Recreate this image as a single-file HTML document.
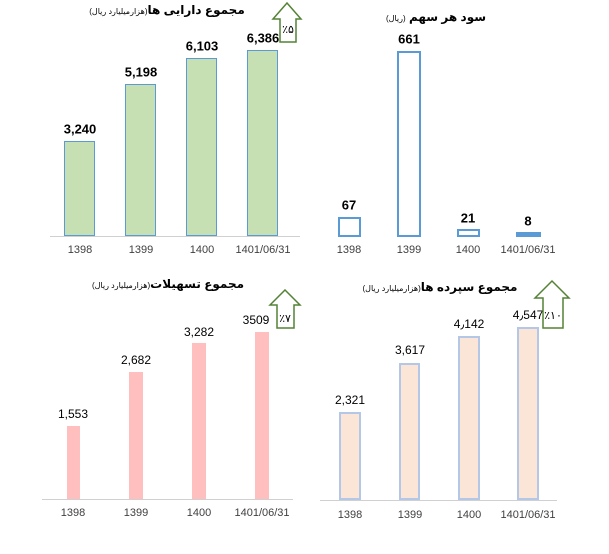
<!DOCTYPE html>
<html><head><meta charset="utf-8"><style>
body{margin:0;width:609px;height:554px;background:#fff;position:relative;overflow:hidden;font-family:"Liberation Sans","DejaVu Sans",sans-serif}
div{position:absolute}
.b{box-sizing:border-box}
.l{transform:translate(-50%,-50%);white-space:nowrap;font-size:12px;color:#000}
.bd{font-weight:bold;font-size:13px}
.x{transform:translate(-50%,-50%);font-size:11px;color:#404040;white-space:nowrap}
.ax{height:1px;background:#d0d0d0}
.t{white-space:nowrap;transform:translate(-50%,-50%);font-size:12px;font-weight:bold;direction:rtl}
.t small{font-size:8px;font-weight:normal}
</style></head><body>
<!-- chart1 -->
<div class="ax" style="left:50px;top:236px;width:250px"></div>
<div class="b" style="left:64px;top:141px;width:31px;height:95px;background:#c6e0b4;border:1px solid #5b9bd5"></div>
<div class="b" style="left:125px;top:84px;width:31px;height:152px;background:#c6e0b4;border:1px solid #5b9bd5"></div>
<div class="b" style="left:186px;top:58px;width:31px;height:178px;background:#c6e0b4;border:1px solid #5b9bd5"></div>
<div class="b" style="left:247px;top:50px;width:31px;height:186px;background:#c6e0b4;border:1px solid #5b9bd5"></div>
<div class="l bd" style="left:80px;top:129px">3,240</div>
<div class="l bd" style="left:141px;top:72px">5,198</div>
<div class="l bd" style="left:202px;top:46px">6,103</div>
<div class="l bd" style="left:263px;top:38px">6,386</div>
<div class="x" style="left:80px;top:250px">1398</div><div class="x" style="left:141px;top:250px">1399</div><div class="x" style="left:202px;top:250px">1400</div><div class="x" style="left:263px;top:250px">1401/06/31</div>
<div class="t" style="left:167px;top:10px">مجموع دارایی ها<small>(هزارمیلیارد ریال)</small></div>
<svg style="position:absolute;left:270px;top:2px" width="40" height="42"><polygon points="3,17 17,1 31,17 26,17 26,40 10,40 10,17" fill="#fff" stroke="#548235" stroke-width="1.5"/><text x="18" y="31" font-size="11" text-anchor="middle" font-family="DejaVu Sans">٪۵</text></svg>
<!-- chart2 -->
<div class="b" style="left:338px;top:217px;width:23px;height:20px;border:2px solid #5b9bd5"></div>
<div class="b" style="left:397px;top:51px;width:24px;height:186px;border:2px solid #5b9bd5"></div>
<div class="b" style="left:457px;top:229px;width:23px;height:8px;border:2px solid #5b9bd5"></div>
<div class="b" style="left:516px;top:232px;width:25px;height:5px;background:#5b9bd5"></div>
<div class="l bd" style="left:349px;top:205px">67</div>
<div class="l bd" style="left:409px;top:39px">661</div>
<div class="l bd" style="left:468px;top:218px">21</div>
<div class="l bd" style="left:528px;top:221px">8</div>
<div class="x" style="left:349px;top:250px">1398</div><div class="x" style="left:409px;top:250px">1399</div><div class="x" style="left:468px;top:250px">1400</div><div class="x" style="left:528px;top:250px">1401/06/31</div>
<div class="t" style="left:436px;top:17px">سود هر سهم <small>(ریال)</small></div>
<!-- chart3 -->
<div class="ax" style="left:42px;top:499px;width:251px"></div>
<div style="left:67px;top:426px;width:13px;height:73px;background:#ffbfbf"></div>
<div style="left:129px;top:372px;width:14px;height:127px;background:#ffbfbf"></div>
<div style="left:192px;top:343px;width:14px;height:156px;background:#ffbfbf"></div>
<div style="left:255px;top:332px;width:14px;height:167px;background:#ffbfbf"></div>
<div class="l" style="left:73px;top:414px">1,553</div>
<div class="l" style="left:136px;top:360px">2,682</div>
<div class="l" style="left:199px;top:332px">3,282</div>
<div class="l" style="left:256px;top:320px">3509</div>
<div class="x" style="left:73px;top:513px">1398</div><div class="x" style="left:136px;top:513px">1399</div><div class="x" style="left:199px;top:513px">1400</div><div class="x" style="left:262px;top:513px">1401/06/31</div>
<div class="t" style="left:168px;top:284px">مجموع تسهیلات<small>(هزارمیلیارد ریال)</small></div>
<svg style="position:absolute;left:268px;top:289px" width="36" height="42"><polygon points="2,16 17,1 32,16 26,16 26,39 9,39 9,16" fill="#fff" stroke="#548235" stroke-width="1.5"/><text x="17" y="33" font-size="11" text-anchor="middle" font-family="DejaVu Sans">٪۷</text></svg>
<!-- chart4 -->
<div class="ax" style="left:320px;top:500px;width:237px"></div>
<div class="b" style="left:339px;top:412px;width:22px;height:88px;background:#fbe5d6;border:2px solid #b4c7e7"></div>
<div class="b" style="left:399px;top:363px;width:21px;height:137px;background:#fbe5d6;border:2px solid #b4c7e7"></div>
<div class="b" style="left:458px;top:336px;width:22px;height:164px;background:#fbe5d6;border:2px solid #b4c7e7"></div>
<div class="b" style="left:517px;top:327px;width:22px;height:173px;background:#fbe5d6;border:2px solid #b4c7e7"></div>
<div class="l" style="left:350px;top:400px">2,321</div>
<div class="l" style="left:410px;top:350px">3,617</div>
<div class="l" style="left:469px;top:324px">4٫142</div>
<div class="l" style="left:528px;top:315px">4٫547</div>
<div class="x" style="left:350px;top:515px">1398</div><div class="x" style="left:410px;top:515px">1399</div><div class="x" style="left:469px;top:515px">1400</div><div class="x" style="left:528px;top:515px">1401/06/31</div>
<div class="t" style="left:440px;top:287px;letter-spacing:2px">مجموع سپرده ها<small>(هزارمیلیارد ریال)</small></div>
<svg style="position:absolute;left:533px;top:279px" width="40" height="52"><polygon points="2,19 19,2 36,19 30,19 30,49 10,49 10,19" fill="#fff" stroke="#548235" stroke-width="1.5"/><text x="20" y="40" font-size="11" text-anchor="middle" font-family="DejaVu Sans">٪۱۰</text></svg>
</body></html>
